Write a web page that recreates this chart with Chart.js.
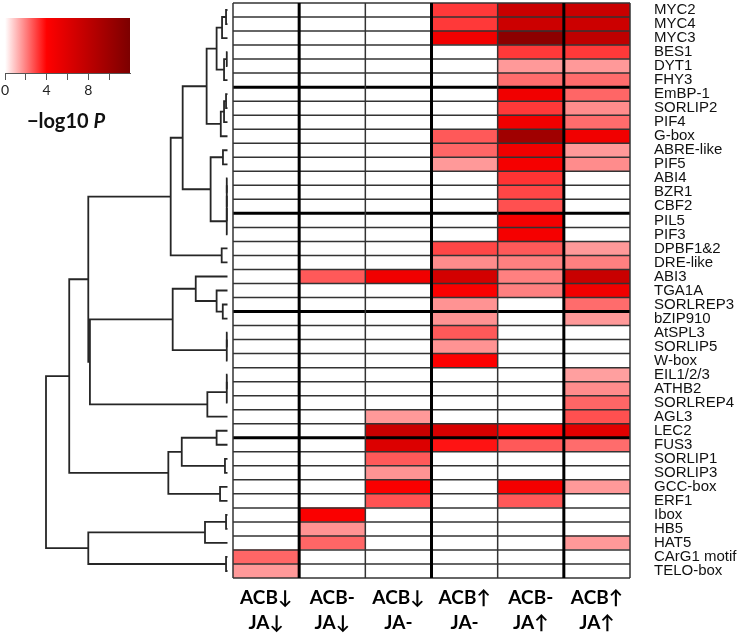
<!DOCTYPE html>
<html>
<head>
<meta charset="utf-8">
<script src="https://cdn.jsdelivr.net/npm/chart.js@4"></script>
<style>
  body { margin: 0; background: #fff; width: 742px; height: 635px; position: relative; overflow: hidden; }
  canvas { position: absolute; }
  #tree { left: 0; top: 0; }
  #heat { left: 223px; top: 0; }
  #key { left: -20px; top: 0; }
  #keyTitle { position: absolute; left: 6px; top: 108px; width: 120px; text-align: center;
              font: bold 20px Lato, sans-serif; line-height: 24px; color: #111; }
</style>
</head>
<body>
<canvas id="tree" width="233" height="635"></canvas>
<canvas id="heat" width="519" height="635"></canvas>
<canvas id="key" width="170" height="100"></canvas>
<div id="keyTitle">&minus;log10 <i>P</i></div>
<script>
// motifs, top to bottom
var motifs = ["MYC2", "MYC4", "MYC3", "BES1", "DYT1", "FHY3", "EmBP-1", "SORLIP2", "PIF4", "G-box",
    "ABRE-like", "PIF5", "ABI4", "BZR1", "CBF2", "PIL5", "PIF3", "DPBF1&2", "DRE-like", "ABI3",
    "TGA1A", "SORLREP3", "bZIP910", "AtSPL3", "SORLIP5", "W-box", "EIL1/2/3", "ATHB2", "SORLREP4", "AGL3",
    "LEC2", "FUS3", "SORLIP1", "SORLIP3", "GCC-box", "ERF1", "Ibox", "HB5", "HAT5", "CArG1 motif", "TELO-box"];

var conditionTop = ["ACB\u2193", "ACB-", "ACB\u2193", "ACB\u2191", "ACB-", "ACB\u2191"];
var conditionBottom = ["JA\u2193", "JA\u2193", "JA-", "JA-", "JA\u2191", "JA\u2191"];

// -log10 P per condition, same order as motifs
var acbDownJaDown = [0,0,0,0,0,0,0,0,0,0, 0,0,0,0,0,0,0,0,0,0, 0,0,0,0,0,0,0,0,0,0, 0,0,0,0,0,0,0,0,0,2.4,1.6];
var acbNoneJaDown = [0,0,0,0,0,0,0,0,0,0, 0,0,0,0,0,0,0,0,0,2.6, 0,0,0,0,0,0,0,0,0,0, 0,0,0,0,0,0,4.3,1.7,2.4,0,0];
var acbDownJaNone = [0,0,0,0,0,0,0,0,0,0, 0,0,0,0,0,0,0,0,0,4.9, 0,0,0,0,0,0,0,0,0,1.6, 7.4,6.2,2.6,1.7,4.3,2.7,0,0,0,0,0];
var acbUpJaNone   = [3.1,3.1,4.9,0,0,0,0,0,0,2.6, 2.4,1.6,0,0,0,0,0,2.9,1.8,6.8, 4.3,1.7,1.7,2.6,1.7,4.2,0,0,0,0, 6.5,3.7,0,0,0,0,0,0,0,0,0];
var acbNoneJaUp   = [7.4,7.2,11.2,3.1,1.6,2.3,4.9,3.1,4.9,10.0, 4.9,4.6,3.2,2.9,2.75,4.6,4.6,2.6,2.0,2.0, 2.0,0,0,0,0,0,0,0,0,0, 3.8,2.6,0,0,4.6,2.6,0,0,0,0,0];
var acbUpJaUp     = [7.4,7.2,8.1,3.1,1.6,2.3,2.4,1.8,2.3,4.9, 1.6,1.8,0,0,0,0,0,1.6,2.0,7.4, 4.9,2.3,1.6,0,0,0,1.5,1.8,2.4,2.75, 5.9,2.3,0,0,1.6,0,0,0,1.6,0,0];
var columnValues = [acbDownJaDown, acbNoneJaDown, acbDownJaNone, acbUpJaNone, acbNoneJaUp, acbUpJaUp];

// row / column group boundaries (drawn thick)
var rowBreaks = [6, 15, 22, 31];
var colBreaks = [1, 3, 5];

// row clustering: [left, right, height]; strings are motifs, numbers are earlier merges
var merges = [
    ["MYC2", "MYC4", 0.008], [0, "MYC3", 0.030], ["BES1", "DYT1", 0.004], [2, "FHY3", 0.019], [1, 3, 0.060],
    ["EmBP-1", "SORLIP2", 0.008], [5, "PIF4", 0.019], [6, "G-box", 0.037], [4, 7, 0.115], ["ABRE-like", "PIF5", 0.025],
    ["ABI4", "BZR1", 0.004], [10, "CBF2", 0.004], [11, "PIL5", 0.004], [12, "PIF3", 0.004], [9, 13, 0.093],
    [8, 14, 0.247], ["DPBF1&2", "DRE-like", 0.032], [15, 16, 0.313], ["SORLREP3", "bZIP910", 0.026], ["TGA1A", 18, 0.060],
    ["ABI3", 19, 0.175], ["AtSPL3", "SORLIP5", 0.004], [21, "W-box", 0.004], [20, 22, 0.302], ["EIL1/2/3", "ATHB2", 0.004],
    [24, "SORLREP4", 0.004], [25, "AGL3", 0.111], [23, 26, 0.758], [17, 27, 0.767], ["LEC2", "FUS3", 0.060],
    ["SORLIP1", "SORLIP3", 0.014], [29, 30, 0.252], ["GCC-box", "ERF1", 0.041], [31, 32, 0.326], [28, 33, 0.872],
    ["Ibox", "HB5", 0.008], [35, "HAT5", 0.124], ["CArG1 motif", "TELO-box", 0.008], [36, 37, 0.767], [34, 38, 1.0]
];

// colour key
var keyMax = 12;
var keyTicks = [0, 2, 4, 6, 8, 10];
var keyStops = [0, 4, 12];
var keyColors = ["#ffffff", "#ff0000", "#7c0000"];

function heatColor(v) {
    if (v <= 0) return "#ffffff";
    if (v <= 4) {
        var c = Math.round(255 * (1 - v / 4));
        return "rgb(255," + c + "," + c + ")";
    }
    var r = Math.round(255 - 127 * Math.min(1, (v - 4) / 8));
    return "rgb(" + r + ",0,0)";
}

// ---- dendrogram ----
var leafIndex = {};
motifs.forEach(function (m, i) { leafIndex[m] = i; });
var nodeY = [], nodeH = [];
function posOf(ref) { return typeof ref === "number" ? nodeY[ref] : leafIndex[ref]; }
function heightOf(ref) { return typeof ref === "number" ? nodeH[ref] : 0; }
var treeSets = merges.map(function (m, k) {
    var a = m[0], b = m[1], h = m[2];
    nodeY[k] = (posOf(a) + posOf(b)) / 2;
    nodeH[k] = h;
    return {
        data: [
            {x: heightOf(a), y: posOf(a)}, {x: h, y: posOf(a)},
            {x: h, y: posOf(b)}, {x: heightOf(b), y: posOf(b)}
        ],
        showLine: true, borderColor: "#262626", borderWidth: 1.8, pointRadius: 0, clip: false
    };
});

new Chart(document.getElementById("tree"), {
    type: "scatter",
    data: { datasets: treeSets },
    options: {
        responsive: false, animation: false,
        layout: { padding: { left: 46, right: 5.5, top: 3, bottom: 57 } },
        plugins: { legend: { display: false }, tooltip: { enabled: false } },
        scales: {
            x: { type: "linear", min: 0, max: 1, reverse: true, display: false },
            y: { type: "linear", min: -0.5, max: motifs.length - 0.5, reverse: true, display: false }
        }
    }
});

// ---- heatmap ----
var cellBorders = {
    id: "cellBorders",
    afterDatasetsDraw: function (chart) {
        var ctx = chart.ctx, x = chart.scales.x, y = chart.scales.y;
        var left = x.getPixelForValue(0), right = x.getPixelForValue(conditionTop.length);
        var top = y.getPixelForValue(-0.5), bottom = y.getPixelForValue(motifs.length - 0.5);
        ctx.save();
        for (var i = 0; i <= motifs.length; i++) {
            var py = y.getPixelForValue(i - 0.5);
            var thick = rowBreaks.indexOf(i) >= 0;
            ctx.lineWidth = thick ? 3 : 1.5;
            ctx.strokeStyle = thick ? "#000" : "#333";
            ctx.beginPath(); ctx.moveTo(left, py); ctx.lineTo(right, py); ctx.stroke();
        }
        for (var j = 0; j <= conditionTop.length; j++) {
            var px = x.getPixelForValue(j);
            var thickC = colBreaks.indexOf(j) >= 0;
            ctx.lineWidth = thickC ? 3 : 1.5;
            ctx.strokeStyle = thickC ? "#000" : "#333";
            ctx.beginPath(); ctx.moveTo(px, top); ctx.lineTo(px, bottom); ctx.stroke();
        }
        ctx.restore();
    }
};

new Chart(document.getElementById("heat"), {
    type: "bar",
    data: {
        labels: motifs,
        datasets: columnValues.map(function (vals, j) {
            return {
                data: vals.map(function () { return [j, j + 1]; }),
                backgroundColor: vals.map(heatColor),
                borderWidth: 0, barPercentage: 1, categoryPercentage: 1, grouped: false
            };
        })
    },
    options: {
        indexAxis: "y", responsive: false, animation: false,
        layout: { padding: { left: 10, top: 3, right: 0, bottom: 0 } },
        plugins: { legend: { display: false }, tooltip: { enabled: false } },
        scales: {
            x: {
                type: "linear", min: 0, max: conditionTop.length, position: "bottom",
                grid: { display: false, drawTicks: false }, border: { display: false },
                afterBuildTicks: function (s) {
                    s.ticks = conditionTop.map(function (c, i) { return { value: i + 0.5 }; });
                },
                ticks: {
                    autoSkip: false, maxRotation: 0, padding: 8, color: "#000",
                    font: { family: "Lato, 'DejaVu Sans', sans-serif", weight: "bold", size: 19, lineHeight: 1.3 },
                    callback: function (v) {
                        var i = Math.floor(v);
                        return [conditionTop[i], conditionBottom[i]];
                    }
                },
                afterFit: function (s) { s.height = 57; s.paddingLeft = 0; s.paddingRight = 0; }
            },
            y: {
                position: "right",
                grid: { display: false, drawTicks: false }, border: { display: false },
                ticks: { autoSkip: false, padding: 24, color: "#111",
                         font: { family: "'Liberation Sans', Arial, sans-serif", size: 15 } },
                afterFit: function (s) { s.width = 112; s.paddingTop = 0; s.paddingBottom = 0; }
            }
        }
    },
    plugins: [cellBorders]
});

// ---- colour key ----
new Chart(document.getElementById("key"), {
    type: "bar",
    data: {
        labels: ["key"],
        datasets: [{
            data: [[0, keyMax]],
            barPercentage: 1, categoryPercentage: 1, borderWidth: 0,
            backgroundColor: function (c) {
                var chart = c.chart;
                if (!chart.chartArea) return "#fff";
                var xs = chart.scales.x;
                var g = chart.ctx.createLinearGradient(xs.getPixelForValue(0), 0, xs.getPixelForValue(keyMax), 0);
                keyStops.forEach(function (v, i) { g.addColorStop(v / keyMax, keyColors[i]); });
                return g;
            }
        }]
    },
    options: {
        indexAxis: "y", responsive: false, animation: false,
        layout: { padding: { left: 25, right: 20, top: 18, bottom: 0 } },
        plugins: { legend: { display: false }, tooltip: { enabled: false } },
        scales: {
            x: {
                type: "linear", min: 0, max: keyMax,
                grid: { drawOnChartArea: false, drawTicks: true, tickLength: 7, color: "#555" },
                border: { display: true, color: "#555" },
                afterBuildTicks: function (s) { s.ticks = keyTicks.map(function (v) { return { value: v }; }); },
                ticks: { padding: 2, color: "#222", font: { family: "Lato, sans-serif", size: 14 },
                         callback: function (v) { return v % 4 === 0 ? v : ""; } },
                afterFit: function (s) { s.height = 27; }
            },
            y: { display: false }
        }
    }
});
</script>
</body>
</html>
